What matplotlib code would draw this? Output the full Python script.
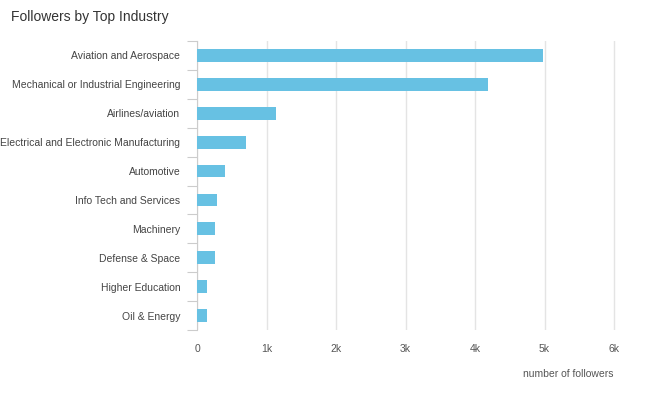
import matplotlib
matplotlib.use("Agg")
import matplotlib.pyplot as plt
import numpy as np
from matplotlib.ticker import FixedLocator

plt.rcParams['font.family'] = ['Liberation Sans', 'DejaVu Sans']

industries = [
    "Aviation and Aerospace",
    "Mechanical or Industrial Engineering",
    "Airlines/aviation",
    "Electrical and Electronic Manufacturing",
    "Automotive",
    "Info Tech and Services",
    "Machinery",
    "Defense & Space",
    "Higher Education",
    "Oil & Energy",
]
followers = [4980, 4190, 1140, 700, 400, 290, 255, 255, 150, 150]
x_ticks = [0, 1000, 2000, 3000, 4000, 5000, 6000]
x_tick_labels = ["0", "1k", "2k", "3k", "4k", "5k", "6k"]

fig = plt.figure(figsize=(6.58, 3.96), dpi=100)
left_px, zero_px, six_px, right_px = 197, 197, 614, 624
ax = fig.add_axes([left_px/658, 1-330/396, (right_px-left_px)/658, (330-41)/396])

y = np.arange(len(industries))
ax.barh(y, followers, height=0.44, color="#67c1e3", zorder=3)
ax.set_ylim(len(industries) - 0.5, -0.5)
ax.set_xlim(0, 6000 * (right_px - zero_px) / (six_px - zero_px))

ax.set_xticks(x_ticks)
ax.set_xticklabels(x_tick_labels)
ax.grid(axis="x", color="#e4e4e4", linewidth=1, zorder=0)
ax.tick_params(axis="x", length=0, pad=10, labelsize=7.5, labelcolor="#555555")

ax.set_yticks(y)
ax.set_yticklabels(industries)
ax.tick_params(axis="y", which="major", length=0, pad=12, labelsize=7.5, labelcolor="#444444")
ax.yaxis.set_minor_locator(FixedLocator(np.arange(-0.5, len(industries), 1.0)))
ax.tick_params(axis="y", which="minor", length=7, width=0.8, color="#cccccc")

for s in ["top", "right", "bottom"]:
    ax.spines[s].set_visible(False)
ax.spines["left"].set_color("#cccccc")
ax.spines["left"].set_linewidth(0.8)

fig.text(11/658, 1-17/396, "Followers by Top Industry", fontsize=10, color="#333333",
         ha="left", va="center")
fig.text(568/658, 1-374/396, "number of followers", fontsize=7.5, color="#555555",
         ha="center", va="center")

fig.savefig("out.png", dpi=100)
